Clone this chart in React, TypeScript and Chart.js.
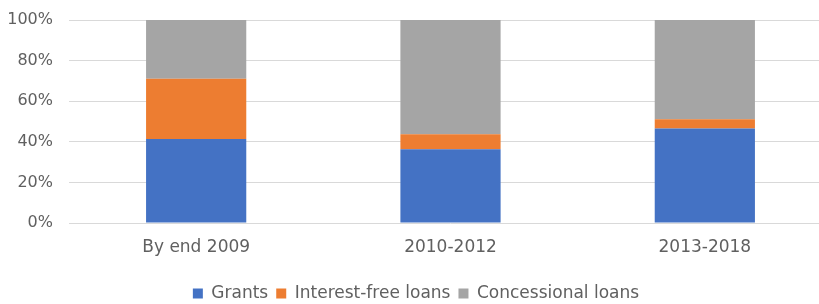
import React, { useEffect, useRef } from "react";
import { Chart, registerables } from "chart.js";

Chart.register(...registerables);

const categories = ["By end 2009", "2010-2012", "2013-2018"];
const grants = [41.4, 36.3, 46.6];
const interestFreeLoans = [29.7, 7.4, 4.5];
const concessionalLoans = [28.9, 56.3, 48.9];
const yTicks = [0, 20, 40, 60, 80, 100];

const FONT = "'DejaVu Sans', 'Liberation Sans', Arial, sans-serif";
const TEXT = "#606060";

export default function App() {
  const ref = useRef<HTMLCanvasElement | null>(null);
  useEffect(() => {
    if (!ref.current) return;
    const chart = new Chart(ref.current, {
      type: "bar",
      data: {
        labels: categories,
        datasets: [
          { label: "Grants", data: grants, backgroundColor: "#4472C4" },
          { label: "Interest-free loans", data: interestFreeLoans, backgroundColor: "#ED7D31" },
          { label: "Concessional loans", data: concessionalLoans, backgroundColor: "#A5A5A5" },
        ],
      },
      options: {
        responsive: false,
        animation: false,
        devicePixelRatio: 1,
        datasets: { bar: { categoryPercentage: 1, barPercentage: 0.394 } },
        layout: { padding: { top: 20, left: 0, right: 0, bottom: 0 } },
        plugins: {
          tooltip: { enabled: false },
          legend: {
            position: "bottom",
            maxHeight: 27,
            labels: {
              boxWidth: 10,
              boxHeight: 10,
              padding: 8,
              color: TEXT,
              font: { family: FONT, size: 17 },
            },
          },
        },
        scales: {
          x: {
            stacked: true,
            grid: { display: false, drawTicks: false },
            border: { display: false },
            ticks: { color: TEXT, padding: 14, font: { family: FONT, size: 17 } },
            afterFit: (s: any) => { s.height = 54; },
          },
          y: {
            stacked: true,
            min: 0,
            max: 100,
            afterBuildTicks: (s: any) => { s.ticks = yTicks.map((v) => ({ value: v })); },
            grid: { color: "#d9d9d9", lineWidth: 1, drawTicks: false },
            border: { display: false },
            ticks: {
              color: TEXT,
              padding: 16,
              font: { family: FONT, size: 16 },
              callback: (v: any) => v + "%",
            },
            afterFit: (s: any) => {
              s.width = 69;
              s.paddingTop = 0;
              s.paddingBottom = 0;
            },
          },
        },
      },
    });
    return () => chart.destroy();
  }, []);
  return (
    <div style={{ position: "fixed", left: 0, top: 0, width: 819, height: 304, overflow: "hidden", background: "#fff" }}>
      <canvas ref={ref} width={832} height={304} style={{ display: "block", width: 832, height: 304 }} />
    </div>
  );
}
